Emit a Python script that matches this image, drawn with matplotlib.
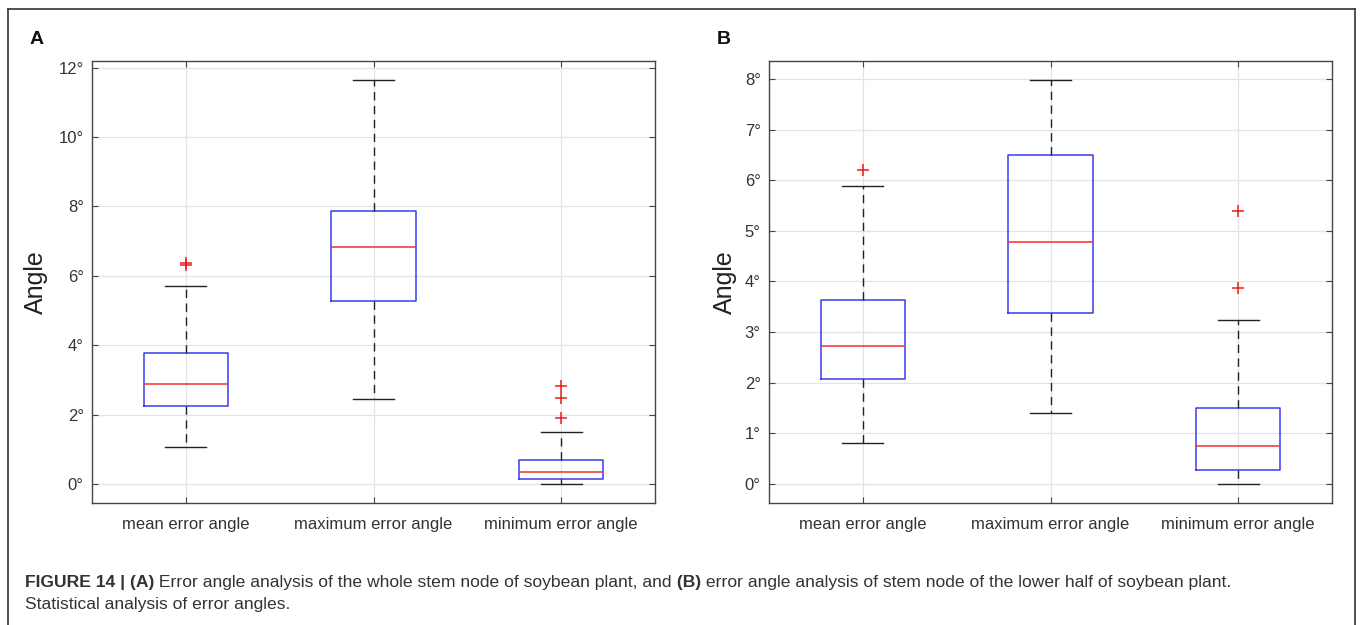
import matplotlib
matplotlib.use("Agg")
import matplotlib.pyplot as plt
from matplotlib.lines import Line2D

plt.rcParams['font.family'] = ['Liberation Sans', 'DejaVu Sans']

categories = ["mean error angle", "maximum error angle", "minimum error angle"]

# Panel A: whole stem node
a_whislo = [1.07, 2.44, 0.0]
a_q1 = [2.24, 5.27, 0.13]
a_med = [2.87, 6.84, 0.35]
a_q3 = [3.76, 7.86, 0.70]
a_whishi = [5.70, 11.65, 1.51]
a_fliers = [[6.32, 6.36], [], [1.91, 2.49, 2.81]]
a_yticks = [0, 2, 4, 6, 8, 10, 12]

# Panel B: lower half stem node
b_whislo = [0.80, 1.39, 0.0]
b_q1 = [2.07, 3.37, 0.27]
b_med = [2.73, 4.78, 0.75]
b_q3 = [3.64, 6.50, 1.49]
b_whishi = [5.89, 7.99, 3.24]
b_fliers = [[6.21], [], [3.87, 5.39]]
b_yticks = [0, 1, 2, 3, 4, 5, 6, 7, 8]

W, H = 1363, 625
fig = plt.figure(figsize=(W / 100, H / 100), dpi=100)


def fx(px):
    return px / W


def fy(py):
    return 1 - py / H


def make_stats(whislo, q1, med, q3, whishi, fliers):
    out = []
    for i in range(len(categories)):
        out.append(dict(whislo=whislo[i], q1=q1[i], med=med[i], q3=q3[i],
                        whishi=whishi[i], fliers=fliers[i], label=categories[i]))
    return out


def panel(left, right, stats, ylim, yticks, letter, letter_x, ylabel_x):
    top, bottom = 61, 503
    ax = fig.add_axes([fx(left), fy(bottom), fx(right - left), (bottom - top) / H])
    ax.bxp(stats, positions=[1, 2, 3], widths=0.45, showfliers=True,
           boxprops=dict(color='#3b3bf0', linewidth=1.1),
           medianprops=dict(color='#f03030', linewidth=1.1),
           whiskerprops=dict(color='#222222', linewidth=1.0, linestyle=(0, (6, 4))),
           capprops=dict(color='#222222', linewidth=1.0),
           capwidths=0.22,
           flierprops=dict(marker='+', markeredgecolor='#ee1c1c', markersize=8,
                           markeredgewidth=1.1, linestyle='none'))
    ax.set_xlim(0.5, 3.5)
    ax.set_ylim(*ylim)
    ax.set_yticks(yticks)
    ax.set_yticklabels([f"{t}°" for t in yticks])
    ax.set_xticks([1, 2, 3])
    ax.set_xticklabels(categories)
    ax.grid(True, color='#e3e3e3', linewidth=0.9)
    ax.set_axisbelow(True)
    ax.tick_params(direction='in', length=4, width=0.8, color='#444444',
                   labelsize=12, labelcolor='#333333', top=True, right=True,
                   pad=6)
    ax.tick_params(axis='x', pad=10)
    for s in ax.spines.values():
        s.set_color('#444444')
        s.set_linewidth(1.0)
    fig.text(fx(ylabel_x), fy(282), "Angle", rotation=90, fontsize=18,
             color='#222222', ha='center', va='center')
    fig.text(fx(letter_x), fy(40), letter, fontsize=14, fontweight='bold',
             color='#111111', ha='left', va='center')
    return ax


panel(92, 655, make_stats(a_whislo, a_q1, a_med, a_q3, a_whishi, a_fliers),
      (-0.55, 12.19), a_yticks, "A", 30, 36)
panel(769, 1332, make_stats(b_whislo, b_q1, b_med, b_q3, b_whishi, b_fliers),
      (-0.38, 8.36), b_yticks, "B", 717, 725)

# outer frame (open at bottom)
frame_color = '#333333'
fig.add_artist(Line2D([fx(8), fx(8)], [fy(9), 0], color=frame_color, lw=1.2))
fig.add_artist(Line2D([fx(8), fx(1355)], [fy(9), fy(9)], color=frame_color, lw=1.2))
fig.add_artist(Line2D([fx(1355), fx(1355)], [fy(9), 0], color=frame_color, lw=1.2))

# caption with mixed bold/regular runs
caption_line1 = [("FIGURE 14 | (A)", 'bold'),
                 (" Error angle analysis of the whole stem node of soybean plant, and", 'normal'),
                 (" (B)", 'bold'),
                 (" error angle analysis of stem node of the lower half of soybean plant.", 'normal')]
caption_line2 = "Statistical analysis of error angles."

fig.canvas.draw()
renderer = fig.canvas.get_renderer()
x = 25
for txt, wt in caption_line1:
    t = fig.text(fx(x), fy(583), txt, fontsize=12.6, fontweight=wt,
                 color='#333333', ha='left', va='center')
    bb = t.get_window_extent(renderer=renderer)
    x += bb.width
fig.text(fx(25), fy(604), caption_line2, fontsize=12.6, color='#333333',
         ha='left', va='center')

fig.savefig("out.png", dpi=100)
